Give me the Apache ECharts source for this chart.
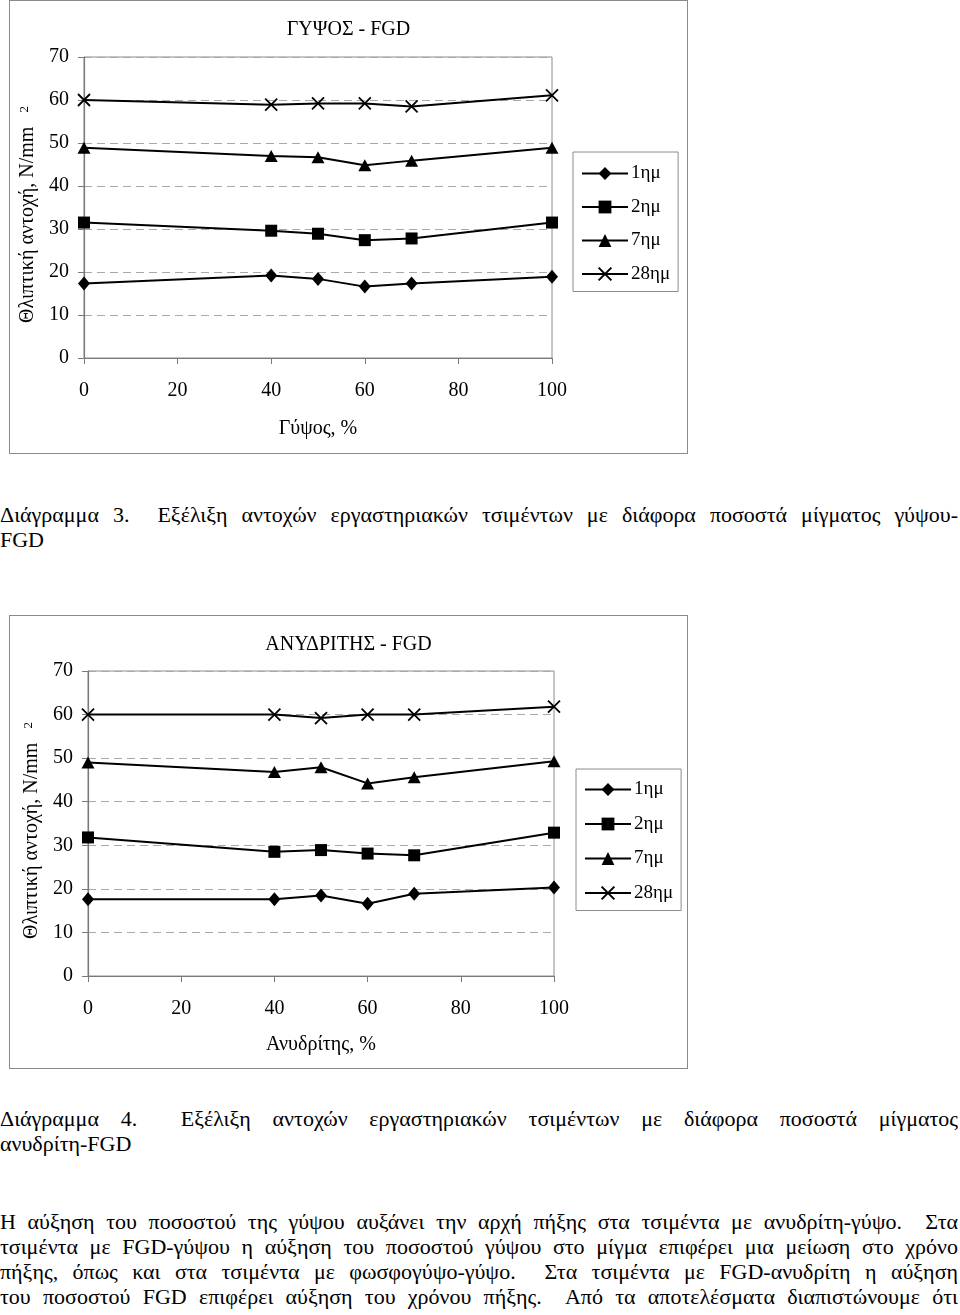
<!DOCTYPE html>
<html>
<head>
<meta charset="utf-8">
<script src="https://cdn.jsdelivr.net/npm/echarts@6.0.0/dist/echarts.min.js"></script>
<style>
  html, body { margin: 0; padding: 0; background: #fff; }
  body { width: 960px; height: 1315px; position: relative; overflow: hidden; font-family: 'Liberation Serif', 'Times New Roman', serif; color: #000; }
  .frame { position: absolute; left: 9px; width: 677px; height: 452px; border: 1px solid #8a8a8a; }
  .line { position: absolute; left: 0; width: 958px; font-size: 22px; line-height: 25px; white-space: nowrap; }
  .just { text-align: justify; text-align-last: justify; }
</style>
</head>
<body>
<div id="c1" class="frame" style="top:0px;"></div>
<div id="c2" class="frame" style="top:615px;"></div>

<div class="line just" style="top:502px;">Διάγραμμα 3.&nbsp; Εξέλιξη αντοχών εργαστηριακών τσιμέντων με διάφορα ποσοστά μίγματος γύψου-</div>
<div class="line" style="top:527px;">FGD</div>

<div class="line just" style="top:1106px;">Διάγραμμα 4.&nbsp; Εξέλιξη αντοχών εργαστηριακών τσιμέντων με διάφορα ποσοστά μίγματος</div>
<div class="line" style="top:1131px;">ανυδρίτη-FGD</div>

<div class="line just" style="top:1209px;">Η αύξηση του ποσοστού της γύψου αυξάνει την αρχή πήξης στα τσιμέντα με ανυδρίτη-γύψο.&nbsp; Στα</div>
<div class="line just" style="top:1234px;">τσιμέντα με FGD-γύψου η αύξηση του ποσοστού γύψου στο μίγμα επιφέρει μια μείωση στο χρόνο</div>
<div class="line just" style="top:1259px;">πήξης, όπως και στα τσιμέντα με φωσφογύψο-γύψο.&nbsp; Στα τσιμέντα με FGD-ανυδρίτη η αύξηση</div>
<div class="line just" style="top:1284px;">του ποσοστού FGD επιφέρει αύξηση του χρόνου πήξης.&nbsp; Από τα αποτελέσματα διαπιστώνουμε ότι</div>

<script>
// ---- data ----
const xPct = [0, 40, 50, 60, 70, 100];
const seriesNames = ['1ημ', '2ημ', '7ημ', '28ημ'];

const gypsum1  = [17.3, 19.2, 18.4, 16.6, 17.3, 18.9];
const gypsum2  = [31.5, 29.6, 28.9, 27.4, 27.8, 31.5];
const gypsum7  = [48.9, 47.0, 46.7, 44.8, 45.9, 48.9];
const gypsum28 = [60.0, 58.9, 59.2, 59.2, 58.5, 61.1];

const anhyd1  = [17.6, 17.6, 18.5, 16.6, 18.9, 20.3];
const anhyd2  = [31.8, 28.5, 28.9, 28.1, 27.7, 32.9];
const anhyd7  = [49.0, 46.8, 47.9, 44.2, 45.6, 49.3];
const anhyd28 = [60.0, 60.0, 59.2, 60.0, 60.0, 61.8];

const yTicks = [0, 10, 20, 30, 40, 50, 60, 70];
const xTicks = [0, 20, 40, 60, 80, 100];

const FONT = "'Liberation Serif', 'Times New Roman', serif";

const symbols = [
  { symbol: 'diamond', size: [12, 14], border: 0 },
  { symbol: 'rect', size: [12, 12], border: 0 },
  { symbol: 'triangle', size: [13, 12], border: 0 },
  { symbol: 'path://M0,0L10,10M10,0L0,10', size: [12, 12], border: 1.8 }
];

function pairs(vals) { return xPct.map((x, i) => [x, vals[i]]); }

function build(el, cfg) {
  const chart = echarts.init(el, null, { renderer: 'canvas' });
  const series = cfg.data.map((vals, i) => ({
    name: seriesNames[i],
    type: 'line',
    data: pairs(vals),
    symbol: symbols[i].symbol,
    symbolSize: symbols[i].size,
    showSymbol: true,
    animation: false,
    lineStyle: { color: '#000', width: 2 },
    itemStyle: { color: '#000', borderColor: '#000', borderWidth: symbols[i].border },
    emphasis: { disabled: true },
    z: 3
  }));
  chart.setOption({
    animation: false,
    title: {
      text: cfg.title,
      left: 'center',
      top: cfg.titleTop,
      textStyle: { fontFamily: FONT, fontSize: 20, fontWeight: 'normal', color: '#000' }
    },
    grid: {
      left: cfg.grid.left, right: cfg.grid.right, top: cfg.grid.top, bottom: cfg.grid.bottom,
      show: true, borderColor: '#8c8c8c', borderWidth: 1, backgroundColor: 'transparent',
      containLabel: false
    },
    legend: {
      orient: 'vertical',
      left: cfg.legend.left, top: cfg.legend.top,
      data: seriesNames,
      itemWidth: 46, itemHeight: 16,
      itemGap: cfg.legend.gap,
      padding: [cfg.legend.padTop, 8, 8, 8],
      borderColor: '#8c8c8c', borderWidth: 1,
      textStyle: { fontFamily: FONT, fontSize: 19, color: '#000', padding: [0, 0, 0, -2] },
      selectedMode: false
    },
    xAxis: {
      type: 'value', min: 0, max: 100, interval: 20,
      name: cfg.xName, nameLocation: 'middle', nameGap: cfg.xNameGap,
      nameTextStyle: { fontFamily: FONT, fontSize: 20, color: '#000' },
      axisLine: { lineStyle: { color: '#7a7a7a', width: 1.2 } },
      axisTick: { show: true, inside: false, length: 6, lineStyle: { color: '#7a7a7a' } },
      axisLabel: { margin: cfg.xLabelMargin, fontFamily: FONT, fontSize: 20, color: '#000' },
      splitLine: { show: false }
    },
    yAxis: {
      type: 'value', min: 0, max: 70, interval: 10,
      name: 'Θλιπτική αντοχή, N/mm{s|2}', nameLocation: 'middle', nameGap: 41,
      nameTextStyle: {
        fontFamily: FONT, fontSize: 20, color: '#000',
        padding: [0, 14, 0, 0],
        rich: { s: { fontFamily: FONT, fontSize: 13, verticalAlign: 'top', padding: [0, 0, 0, 14], color: '#000' } }
      },
      axisLine: { show: true, lineStyle: { color: '#7a7a7a', width: 1.2 } },
      axisTick: { show: true, inside: false, length: 6, lineStyle: { color: '#7a7a7a' } },
      axisLabel: { margin: 15, fontFamily: FONT, fontSize: 20, color: '#000' },
      splitLine: { show: true, lineStyle: { color: '#a8a8a8', type: [8, 5], width: 1 } }
    },
    series: series
  });
}

build(document.getElementById('c1'), {
  title: 'ΓΥΨΟΣ - FGD',
  titleTop: 14,
  xName: 'Γύψος, %',
  xNameGap: 61,
  xLabelMargin: 23,
  grid: { left: 74, right: 135, top: 56, bottom: 95 },
  legend: { left: 563, top: 151, gap: 14.5, padTop: 12 },
  data: [gypsum1, gypsum2, gypsum7, gypsum28]
});

build(document.getElementById('c2'), {
  title: 'ΑΝΥΔΡΙΤΗΣ - FGD',
  titleTop: 14,
  xName: 'Ανυδρίτης, %',
  xNameGap: 59,
  xLabelMargin: 23,
  grid: { left: 78, right: 133, top: 55, bottom: 92 },
  legend: { left: 566, top: 153, gap: 15.5, padTop: 11 },
  data: [anhyd1, anhyd2, anhyd7, anhyd28]
});
</script>
</body>
</html>
